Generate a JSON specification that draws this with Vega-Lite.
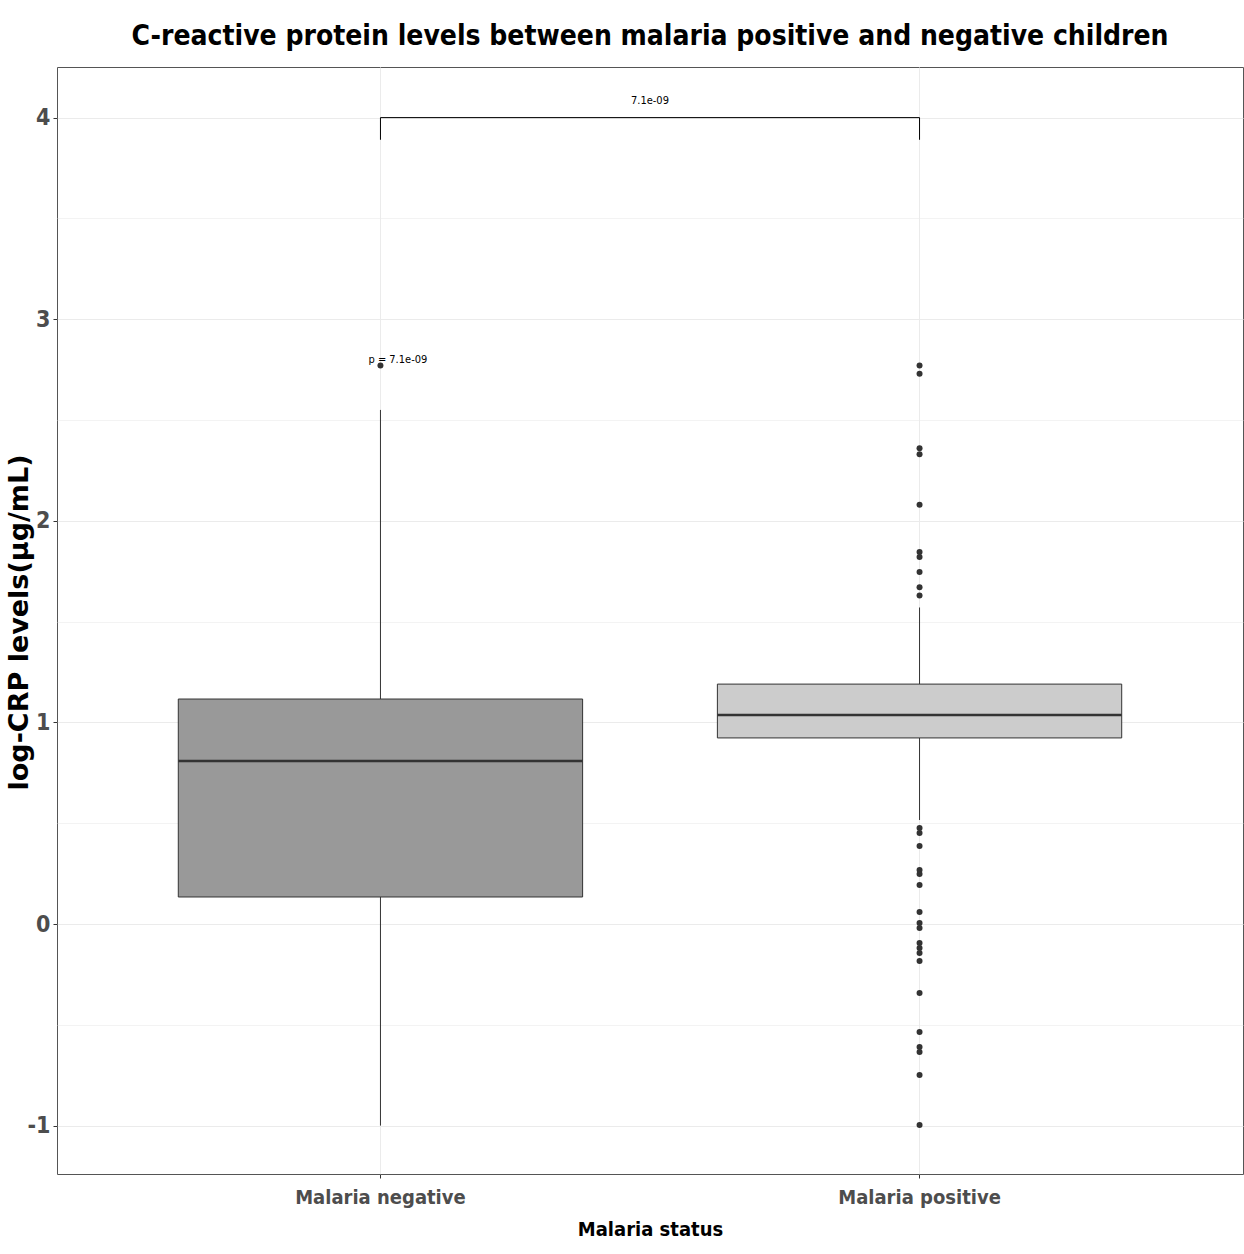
{
  "$schema": "https://vega.github.io/schema/vega-lite/v6.json",
  "autosize": {"type": "none"},
  "width": 1186,
  "height": 1107,
  "padding": {"left": 57, "top": 67, "right": 1, "bottom": 80},
  "background": "white",
  "config": {
    "view": {"stroke": "#555555", "strokeWidth": 1},
    "font": "DejaVu Sans Condensed"
  },
  "title": {
    "text": "C-reactive protein levels between malaria positive and negative children",
    "font": "DejaVu Sans Condensed",
    "fontSize": 28,
    "fontWeight": "bold",
    "color": "#000000",
    "anchor": "middle",
    "offset": 16
  },
  "datasets": {
    "stats": [
      {"group": "Malaria negative", "lower": -1.0, "q1": 0.134, "median": 0.809, "q3": 1.116, "upper": 2.55},
      {"group": "Malaria positive", "lower": 0.516, "q1": 0.923, "median": 1.037, "q3": 1.19, "upper": 1.57}
    ],
    "outliers": [
      {"group": "Malaria negative", "value": 2.77},
      {"group": "Malaria positive", "value": 2.77},
      {"group": "Malaria positive", "value": 2.73},
      {"group": "Malaria positive", "value": 2.36},
      {"group": "Malaria positive", "value": 2.33},
      {"group": "Malaria positive", "value": 2.08},
      {"group": "Malaria positive", "value": 1.845},
      {"group": "Malaria positive", "value": 1.82},
      {"group": "Malaria positive", "value": 1.746},
      {"group": "Malaria positive", "value": 1.67},
      {"group": "Malaria positive", "value": 1.63},
      {"group": "Malaria positive", "value": 0.476},
      {"group": "Malaria positive", "value": 0.451},
      {"group": "Malaria positive", "value": 0.387},
      {"group": "Malaria positive", "value": 0.268},
      {"group": "Malaria positive", "value": 0.248},
      {"group": "Malaria positive", "value": 0.193},
      {"group": "Malaria positive", "value": 0.06},
      {"group": "Malaria positive", "value": 0.005},
      {"group": "Malaria positive", "value": -0.02},
      {"group": "Malaria positive", "value": -0.094},
      {"group": "Malaria positive", "value": -0.119},
      {"group": "Malaria positive", "value": -0.144},
      {"group": "Malaria positive", "value": -0.183},
      {"group": "Malaria positive", "value": -0.342},
      {"group": "Malaria positive", "value": -0.536},
      {"group": "Malaria positive", "value": -0.61},
      {"group": "Malaria positive", "value": -0.635},
      {"group": "Malaria positive", "value": -0.749},
      {"group": "Malaria positive", "value": -0.997}
    ],
    "bracket": [
      {"from": "Malaria negative", "to": "Malaria positive", "y": 4.0, "ylow": 3.89, "label": "7.1e-09", "labely": 4.08}
    ],
    "ticks": [
      {"group": "Malaria negative", "y": 4.0, "ylow": 3.89},
      {"group": "Malaria positive", "y": 4.0, "ylow": 3.89}
    ],
    "ptext": [
      {"group": "Malaria negative", "y": 2.8, "label": "p = 7.1e-09"}
    ]
  },
  "layer": [
    {
      "data": {"name": "stats"},
      "mark": {"type": "rule", "color": "#333333", "strokeWidth": 1},
      "encoding": {
        "x": {
          "field": "group", "type": "nominal",
          "scale": {"type": "band", "domain": ["Malaria negative", "Malaria positive"], "paddingInner": 0.25, "paddingOuter": 0.225},
          "axis": {
            "title": "Malaria status",
            "titleFont": "DejaVu Sans Condensed",
            "titleFontSize": 20,
            "titleFontWeight": "bold",
            "titleColor": "#000000",
            "titlePadding": 12,
            "labelFont": "DejaVu Sans Condensed",
            "labelFontSize": 20,
            "labelFontWeight": "bold",
            "labelColor": "#4d4d4d",
            "labelPadding": 9,
            "labelAngle": 0,
            "labelLimit": 0,
            "domain": false,
            "ticks": true,
            "tickColor": "#333333",
            "tickSize": 4,
            "bandPosition": 0.5,
            "grid": true,
            "gridColor": "#ebebeb",
            "gridWidth": 1
          }
        },
        "y": {
          "field": "lower", "type": "quantitative",
          "scale": {"domain": [-1.24, 4.251], "nice": false, "zero": false},
          "axis": {
            "title": "log-CRP levels(µg/mL)",
            "titleFont": "DejaVu Sans",
            "titleFontSize": 27,
            "titleFontWeight": "bold",
            "titleColor": "#000000",
            "titleX": -38,
            "titleY": 555,
            "titleAngle": 270,
            "titleAlign": "center",
            "titleBaseline": "middle",
            "values": [-1, -0.5, 0, 0.5, 1, 1.5, 2, 2.5, 3, 3.5, 4],
            "labelExpr": "datum.value % 1 === 0 ? '' + datum.value : ''",
            "labelFont": "DejaVu Sans Condensed",
            "labelFontSize": 23,
            "labelFontWeight": "bold",
            "labelColor": "#4d4d4d",
            "labelPadding": 3,
            "domain": false,
            "tickColor": "#333333",
            "tickSize": 4,
            "tickOpacity": {"condition": {"test": "datum.value % 1 === 0", "value": 1}, "value": 0},
            "grid": true,
            "gridColor": "#ebebeb",
            "gridWidth": {"condition": {"test": "datum.value % 1 === 0", "value": 1}, "value": 0.6}
          }
        },
        "y2": {"field": "upper"}
      }
    },
    {
      "data": {"name": "stats"},
      "mark": {"type": "bar", "stroke": "#333333", "strokeWidth": 1},
      "encoding": {
        "x": {"field": "group", "type": "nominal"},
        "y": {"field": "q1", "type": "quantitative"},
        "y2": {"field": "q3"},
        "fill": {
          "field": "group", "type": "nominal",
          "scale": {"domain": ["Malaria negative", "Malaria positive"], "range": ["#999999", "#cccccc"]},
          "legend": null
        }
      }
    },
    {
      "data": {"name": "stats"},
      "mark": {"type": "bar", "stroke": "#333333", "strokeWidth": 2.5, "fillOpacity": 0},
      "encoding": {
        "x": {"field": "group", "type": "nominal"},
        "y": {"field": "median", "type": "quantitative"},
        "y2": {"field": "median"}
      }
    },
    {
      "data": {"name": "outliers"},
      "mark": {"type": "circle", "color": "#333333", "size": 36, "opacity": 1},
      "encoding": {
        "x": {"field": "group", "type": "nominal"},
        "y": {"field": "value", "type": "quantitative"}
      }
    },
    {
      "data": {"name": "bracket"},
      "mark": {"type": "rule", "color": "#000000", "strokeWidth": 1},
      "encoding": {
        "x": {"field": "from", "type": "nominal", "bandPosition": 0.5},
        "x2": {"field": "to", "bandPosition": 0.5},
        "y": {"field": "y", "type": "quantitative"}
      }
    },
    {
      "data": {"name": "ticks"},
      "mark": {"type": "rule", "color": "#000000", "strokeWidth": 1},
      "encoding": {
        "x": {"field": "group", "type": "nominal", "bandPosition": 0.5},
        "y": {"field": "ylow", "type": "quantitative"},
        "y2": {"field": "y"}
      }
    },
    {
      "data": {"name": "bracket"},
      "mark": {"type": "text", "font": "DejaVu Sans Condensed", "fontSize": 11, "color": "#000000", "align": "center", "baseline": "middle", "dx": 269.5},
      "encoding": {
        "x": {"field": "from", "type": "nominal", "bandPosition": 0.5},
        "y": {"field": "labely", "type": "quantitative"},
        "text": {"field": "label"}
      }
    },
    {
      "data": {"name": "ptext"},
      "mark": {"type": "text", "font": "DejaVu Sans Condensed", "fontSize": 11, "color": "#000000", "align": "left", "baseline": "middle", "dx": -12},
      "encoding": {
        "x": {"field": "group", "type": "nominal", "bandPosition": 0.5},
        "y": {"field": "y", "type": "quantitative"},
        "text": {"field": "label"}
      }
    }
  ]
}
